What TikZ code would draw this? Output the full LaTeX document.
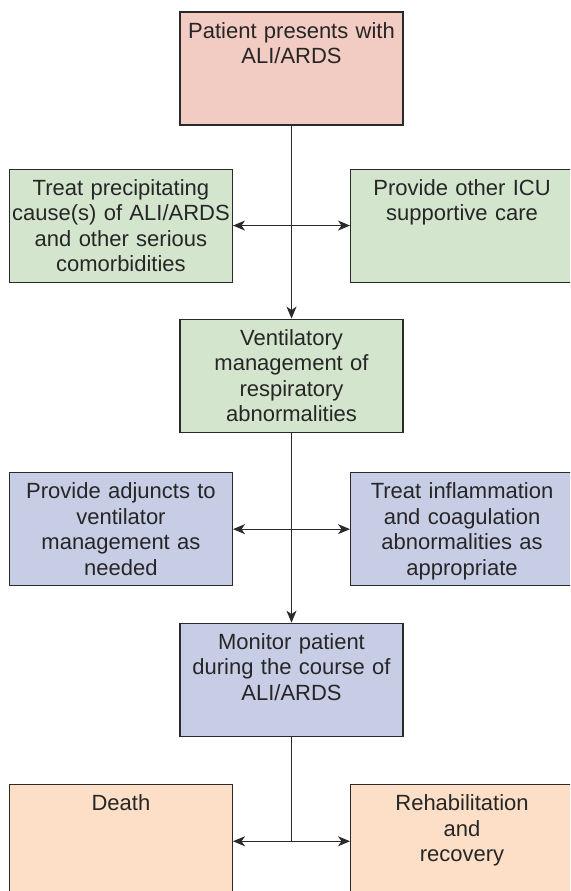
\documentclass[tikz,border=0pt]{standalone}
\usepackage{fontspec}
\setmainfont{Liberation Sans}
\usetikzlibrary{arrows.meta,positioning}
\definecolor{pinkbox}{HTML}{F2CBC2}
\definecolor{greenbox}{HTML}{D4E5CE}
\definecolor{bluebox}{HTML}{C8CDE6}
\definecolor{peachbox}{HTML}{FDDFC7}
\definecolor{edge}{HTML}{2A2A2A}

\begin{document}
\begin{tikzpicture}[
  box/.style={draw=edge,line width=1.1pt,text=black!85,align=center,
    text width=221pt,inner xsep=1pt,inner ysep=0pt,
    text height=26pt,text depth=87pt,font=\fontsize{22}{25.5}\selectfont},
  tip/.style={Stealth[length=12pt,width=10pt,inset=3.5pt]},
  link/.style={-{Stealth[length=12pt,width=10pt,inset=3.5pt]},line width=1.1pt,edge},
  both/.style={{Stealth[length=12pt,width=10pt,inset=3.5pt]}-{Stealth[length=12pt,width=10pt,inset=3.5pt]},line width=1.1pt,edge},
  wire/.style={line width=1.1pt,edge}]
\clip (0,0) rectangle (570pt,-891pt);
% main column
\node[box,fill=pinkbox] (start) at (291.5pt,-68.5pt) {Patient presents with\\ALI/ARDS};
\node[box,fill=greenbox,below=193pt of start] (vent) {Ventilatory\\management of\\respiratory\\abnormalities};
\node[box,fill=bluebox,below=190pt of vent] (mon) {Monitor patient\\during the course of\\ALI/ARDS};
% side boxes hang off the junctions
\coordinate[below=100pt of start.south] (j1);
\coordinate[below=96.5pt of vent.south] (j2);
\coordinate[below=104.5pt of mon.south] (j3);
\node[box,fill=greenbox,left=58.5pt of j1] (cause) {Treat precipitating\\cause(s) of ALI/ARDS\\and other serious\\comorbidities};
\node[box,fill=greenbox,right=58.5pt of j1] (care) {Provide other ICU\\supportive care};
\node[box,fill=bluebox,left=58.5pt of j2] (adj) {Provide adjuncts to\\ventilator\\management as\\needed};
\node[box,fill=bluebox,right=58.5pt of j2] (inflam) {Treat inflammation\\and coagulation\\abnormalities as\\appropriate};
\node[box,fill=peachbox,left=58.5pt of j3] (death) {Death};
\node[box,fill=peachbox,right=58.5pt of j3] (rehab) {Rehabilitation\\and\\recovery};
\draw[link] (start) -- (vent);
\draw[link] (vent) -- (mon);
\draw[wire] (mon) -- (j3);
\draw[both] (cause) -- (care);
\draw[both] (adj) -- (inflam);
\draw[both] (death) -- (rehab);
\end{tikzpicture}
\end{document}
